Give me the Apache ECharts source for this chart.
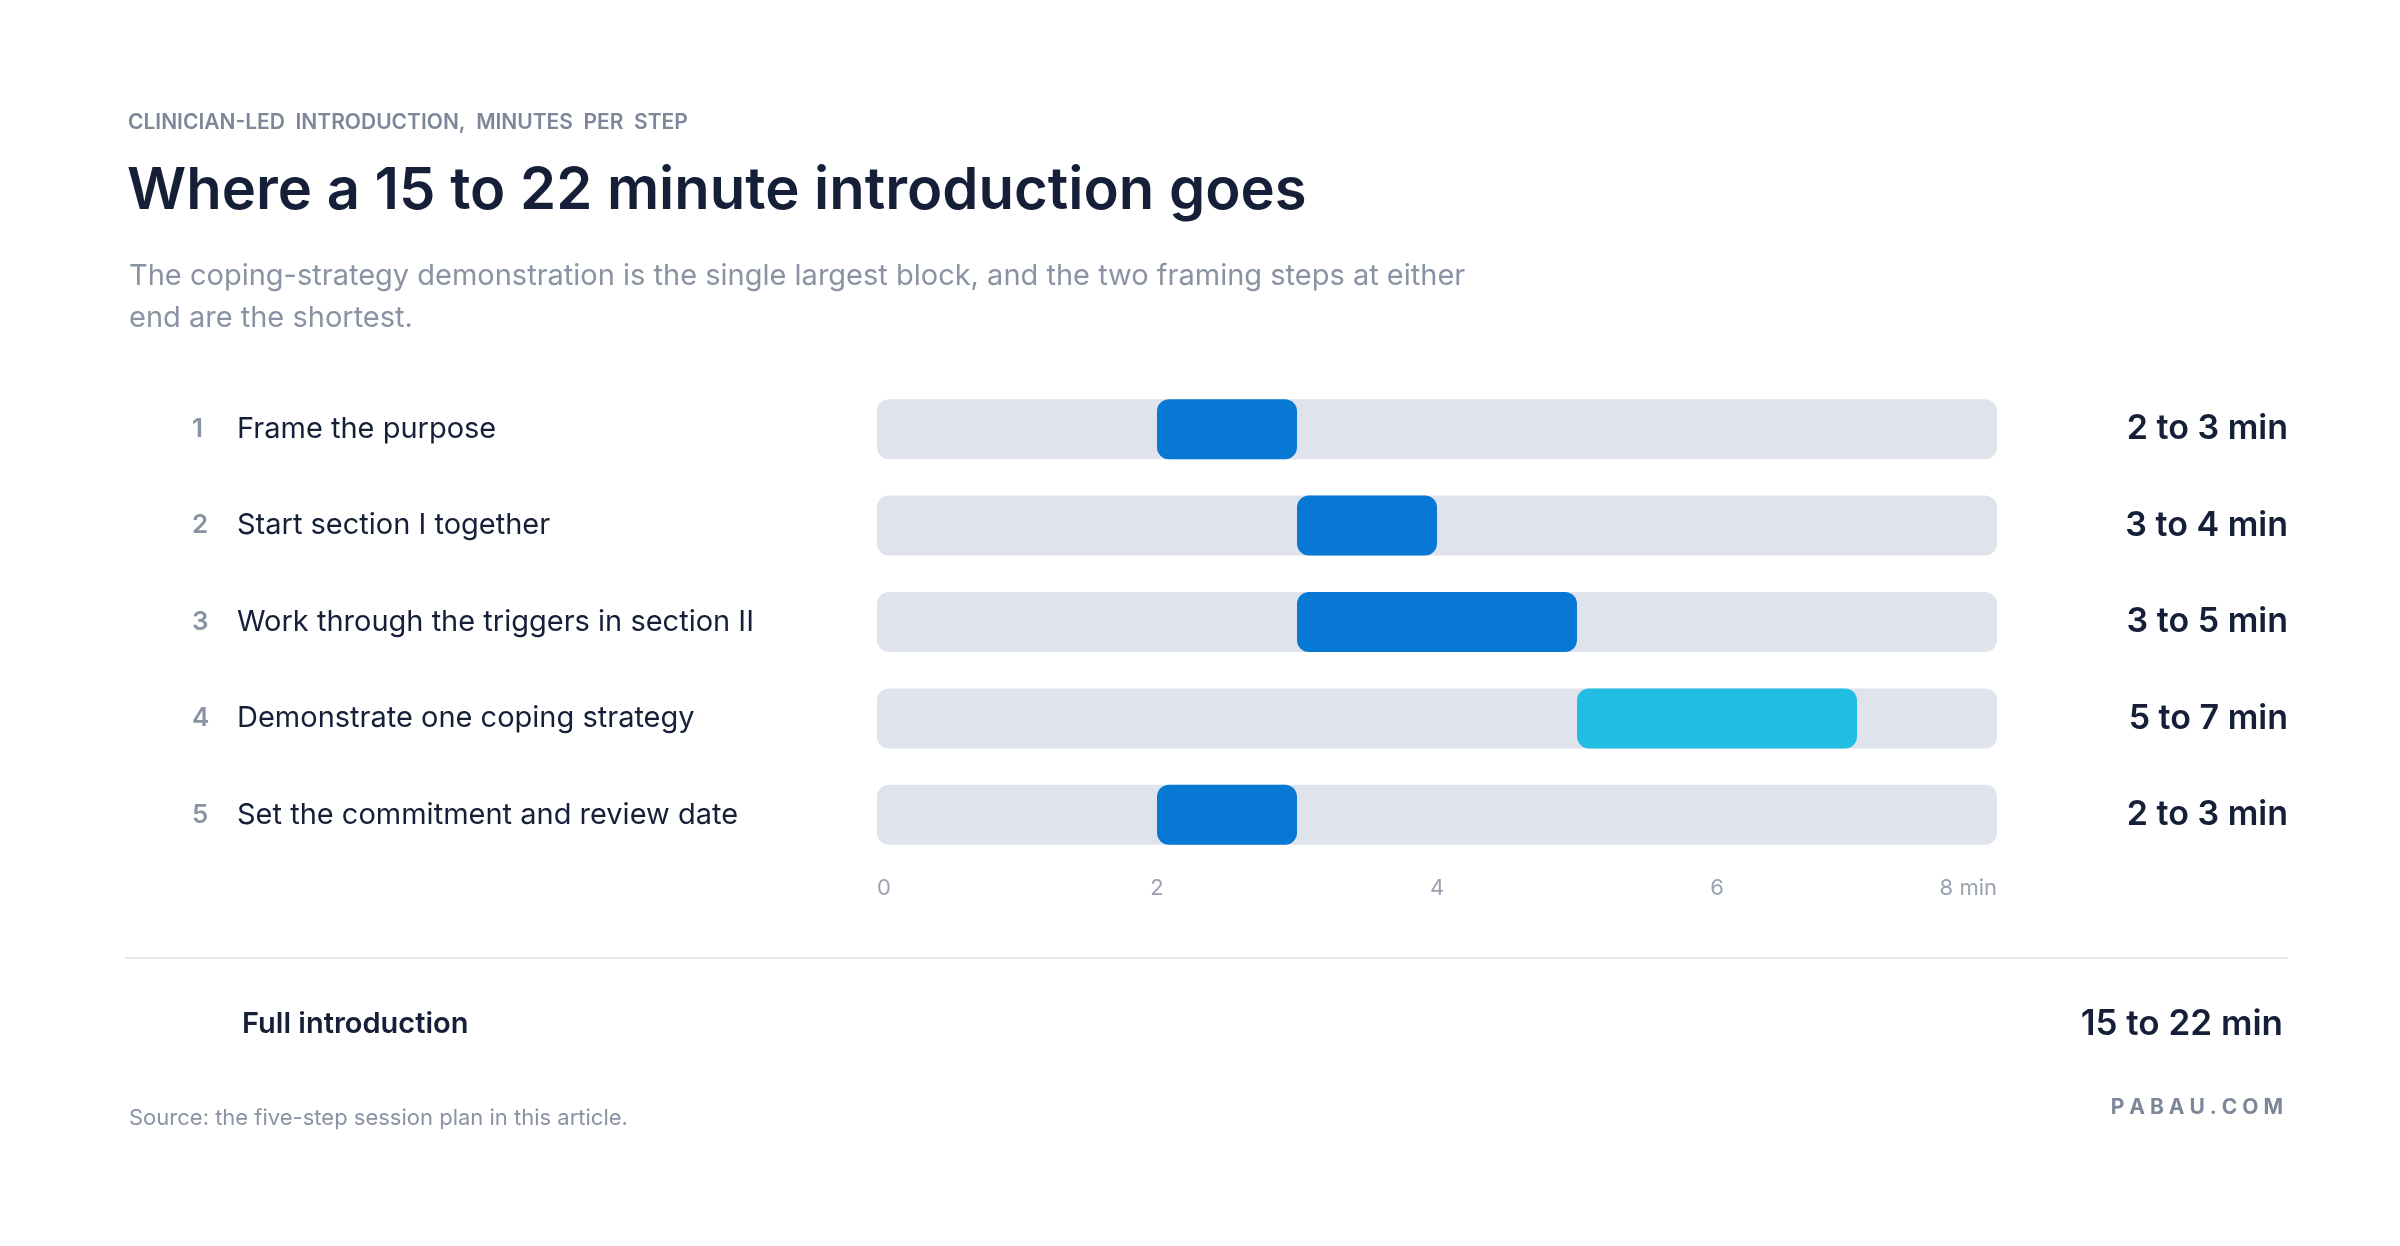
<!DOCTYPE html>
<html><head><meta charset="utf-8">
<script src="https://cdn.jsdelivr.net/npm/echarts@6/dist/echarts.min.js"></script>
<style>html,body{margin:0;padding:0;background:#fff}#c{width:2400px;height:1246px}</style>
</head><body><div id="c"></div>
<script>
const steps = ['Frame the purpose','Start section I together','Work through the triggers in section II','Demonstrate one coping strategy','Set the commitment and review date'];
const startMin = [2,3,3,5,2];
const endMin = [3,4,5,7,3];
const rangeLabels = ['2 to 3 min','3 to 4 min','3 to 5 min','5 to 7 min','2 to 3 min'];
const barColors = ['#0779d4','#0779d4','#0779d4','#22bde3','#0779d4'];
const axisTicks = [0,2,4,6,8];
const axisMax = 8;
const totalLabel = '15 to 22 min';

const F = 'Inter, "Noto Sans", sans-serif';
const chart = echarts.init(document.getElementById('c'));
chart.setOption({
  backgroundColor:'#fff',
  animation:false,
  title:[
    {text:'CLINICIAN-LED  INTRODUCTION,  MINUTES  PER  STEP',left:123,top:107,textStyle:{fontFamily:F,fontSize:21,fontWeight:600,color:'#7d8799'}},
    {text:'Where a 15 to 22 minute introduction goes',left:122,top:158,textStyle:{fontFamily:F,fontSize:58,fontWeight:600,color:'#151f38'}},
    {text:'The coping-strategy demonstration is the single largest block, and the two framing steps at either\nend are the shortest.',left:124,top:250,textStyle:{fontFamily:F,fontSize:29,fontWeight:400,color:'#8a93a3',lineHeight:42}},
    {text:'Full introduction',left:237,top:1005,textStyle:{fontFamily:F,fontSize:29,fontWeight:600,color:'#151f38'}},
    {text:totalLabel,right:112,top:1002,textStyle:{fontFamily:F,fontSize:35,fontWeight:600,color:'#151f38'}},
    {text:'Source: the five-step session plan in this article.',left:124,top:1102,textStyle:{fontFamily:F,fontSize:22,fontWeight:400,color:'#8a93a3'}},
    {text:'P A B A U . C O M',right:112,top:1092,textStyle:{fontFamily:F,fontSize:21,fontWeight:700,color:'#7d8799'}}
  ],
  graphic:[{type:'line',shape:{x1:125,y1:958,x2:2288,y2:958},style:{stroke:'#e3e6ec',lineWidth:2}}],
  grid:{left:877,right:403,top:381,bottom:383},
  xAxis:{type:'value',min:0,max:axisMax,interval:2,splitLine:{show:false},axisLine:{show:false},axisTick:{show:false},
    axisLabel:{margin:14,fontFamily:F,fontSize:22,color:'#9aa2b0',alignMinLabel:'left',alignMaxLabel:'right',
      formatter:v=>axisTicks.indexOf(v)<0?'':(v===axisMax?v+' min':String(v))}},
  yAxis:[
    {type:'category',inverse:true,data:steps,axisLine:{show:false},axisTick:{show:false},
      axisLabel:{align:'left',margin:685,formatter:(v,i)=>'{n|'+(i+1)+'}{t|'+v+'}',
        rich:{n:{width:45,fontFamily:F,fontSize:26,fontWeight:600,color:'#8a93a3'},t:{fontFamily:F,fontSize:29,color:'#151f38'}}}},
    {type:'category',inverse:true,position:'right',data:rangeLabels,axisLine:{show:false},axisTick:{show:false},
      axisLabel:{align:'right',margin:291,fontFamily:F,fontSize:34,fontWeight:600,color:'#151f38'}}
  ],
  series:[
    {type:'bar',barWidth:60,barGap:'-100%',data:steps.map(()=>axisMax),itemStyle:{color:'#dfe3ec',borderRadius:12},silent:true},
    {type:'bar',stack:'r',barWidth:60,data:startMin,itemStyle:{color:'transparent'},silent:true},
    {type:'bar',stack:'r',barWidth:60,data:endMin.map((e,i)=>({value:e-startMin[i],itemStyle:{color:barColors[i]}})),itemStyle:{borderRadius:12}}
  ]
});
</script></body></html>
